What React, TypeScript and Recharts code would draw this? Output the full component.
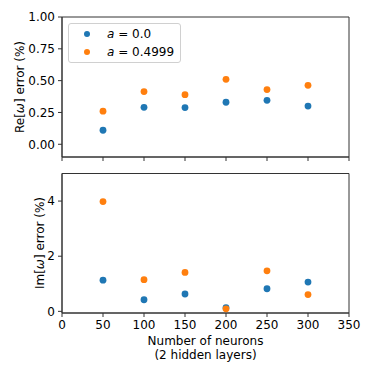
import React from 'react';
import { ScatterChart, Scatter, XAxis, YAxis, ReferenceArea } from 'recharts';

const neurons = [50, 100, 150, 200, 250, 300];
const seriesNames = ['0.0', '0.4999'];
const reA0 = [0.11, 0.29, 0.288, 0.33, 0.345, 0.3];
const reA1 = [0.26, 0.414, 0.39, 0.51, 0.43, 0.463];
const imA0 = [1.13, 0.42, 0.63, 0.13, 0.82, 1.06];
const imA1 = [3.98, 1.15, 1.41, 0.09, 1.47, 0.61];
const xTicks = [0, 50, 100, 150, 200, 250, 300, 350];
const reTicks = [0, 0.25, 0.5, 0.75, 1.0];
const imTicks = [0, 2, 4];

const colors = ['#1f77b4', '#ff7f0e'];
const FONT = '"DejaVu Sans", sans-serif';
const FS = 12;

const toPts = (ys: number[]) => neurons.map((x, i) => ({ x, y: ys[i] }));

const dot = (color: string) => (props: any) => (
  <circle cx={props.cx} cy={props.cy} r={3.4} fill={color} />
);

const tickStyle = { fill: '#000', fontSize: FS, fontFamily: FONT };

export default function App() {
  return (
    <div style={{ position: 'absolute', left: 0, top: 0, width: 374, height: 374, background: '#fff', fontFamily: FONT }}>
      <div style={{ position: 'absolute', left: 0, top: 0 }}>
        <ScatterChart width={374} height={170} margin={{ top: 17, right: 25, bottom: 0, left: 22 }}>
          <XAxis
            type="number"
            dataKey="x"
            domain={[0, 350]}
            ticks={xTicks}
            tickFormatter={() => ''}
            height={13}
            tickSize={4}
            stroke="#333"
            tick={tickStyle}
            allowDataOverflow
          />
          <YAxis
            type="number"
            dataKey="y"
            domain={[-0.1, 1.0]}
            ticks={reTicks}
            tickFormatter={(v: number) => v.toFixed(2)}
            width={40}
            tickSize={4}
            tickMargin={3}
            stroke="#333"
            tick={tickStyle}
            allowDataOverflow
            label={{
              content: () => (
                <text x={24} y={87} transform="rotate(-90 24 87)" textAnchor="middle" fontSize={FS} fontFamily={FONT} fill="#000">
                  Re[<tspan fontStyle="italic">ω</tspan>] error (%)
                </text>
              ),
            }}
          />
          <ReferenceArea x1={0} x2={350} y1={-0.1} y2={1.0} fill="none" stroke="#333" strokeWidth={1} ifOverflow="visible" />
          <Scatter data={toPts(reA0)} shape={dot(colors[0])} isAnimationActive={false} />
          <Scatter data={toPts(reA1)} shape={dot(colors[1])} isAnimationActive={false} />
        </ScatterChart>
      </div>
      <div style={{ position: 'absolute', left: 0, top: 160 }}>
        <ScatterChart width={374} height={214} margin={{ top: 13.5, right: 25, bottom: 0, left: 22 }}>
          <XAxis
            type="number"
            dataKey="x"
            domain={[0, 350]}
            ticks={xTicks}
            height={61}
            tickSize={4}
            tickMargin={3}
            stroke="#333"
            tick={tickStyle}
            allowDataOverflow
            label={{
              content: () => (
                <g>
                  <text x={205.5} y={184.5} textAnchor="middle" fontSize={FS} fontFamily={FONT} fill="#000">
                    Number of neurons
                  </text>
                  <text x={205.5} y={198.5} textAnchor="middle" fontSize={FS} fontFamily={FONT} fill="#000">
                    (2 hidden layers)
                  </text>
                </g>
              ),
            }}
          />
          <YAxis
            type="number"
            dataKey="y"
            domain={[-0.06, 5]}
            ticks={imTicks}
            width={40}
            tickSize={4}
            tickMargin={3}
            stroke="#333"
            tick={tickStyle}
            allowDataOverflow
            label={{
              content: () => (
                <text x={44} y={83} transform="rotate(-90 44 83)" textAnchor="middle" fontSize={FS} fontFamily={FONT} fill="#000">
                  Im[<tspan fontStyle="italic">ω</tspan>] error (%)
                </text>
              ),
            }}
          />
          <ReferenceArea x1={0} x2={350} y1={-0.06} y2={5} fill="none" stroke="#333" strokeWidth={1} ifOverflow="visible" />
          <Scatter data={toPts(imA0)} shape={dot(colors[0])} isAnimationActive={false} />
          <Scatter data={toPts(imA1)} shape={dot(colors[1])} isAnimationActive={false} />
        </ScatterChart>
      </div>
      <div
        style={{
          position: 'absolute',
          left: 68,
          top: 23,
          width: 111,
          height: 38,
          border: '1px solid #d0d0d0',
          borderRadius: 3,
          background: 'rgba(255,255,255,0.8)',
        }}
      >
        {seriesNames.map((name, i) => (
          <div key={name} style={{ position: 'absolute', left: 0, top: 1 + i * 18, height: 18, width: 111 }}>
            <span
              style={{
                position: 'absolute',
                left: 14.6,
                top: 5.6,
                width: 6.8,
                height: 6.8,
                borderRadius: '50%',
                background: colors[i],
              }}
            />
            <span
              style={{
                position: 'absolute',
                left: 38,
                top: 1,
                fontSize: FS,
                lineHeight: '16px',
                whiteSpace: 'nowrap',
                color: '#000',
                fontFamily: FONT,
              }}
            >
              <i>a</i> = {name}
            </span>
          </div>
        ))}
      </div>
    </div>
  );
}
